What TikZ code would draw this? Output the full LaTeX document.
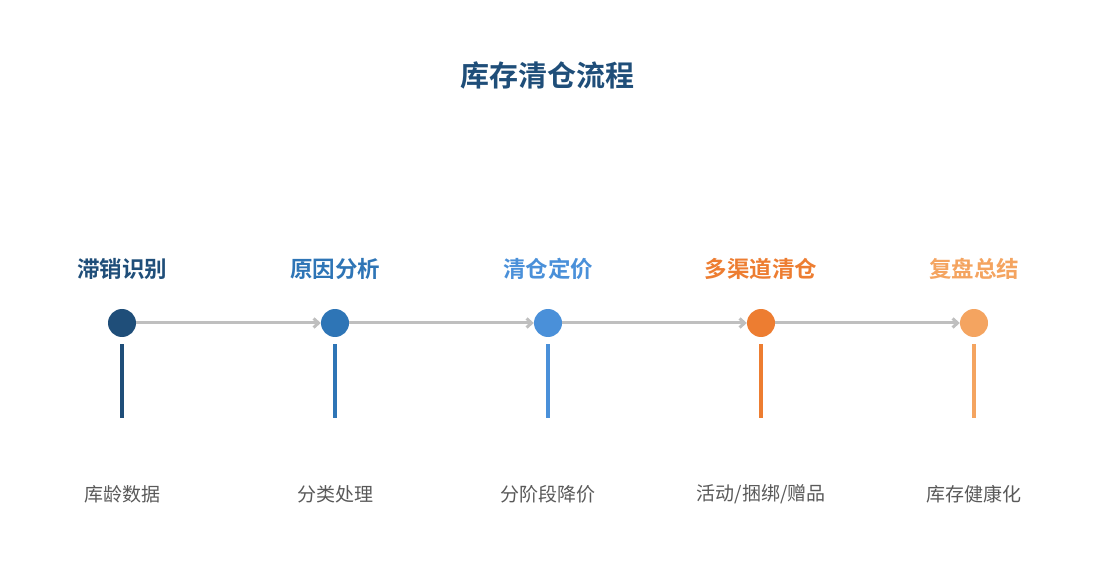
\documentclass[tikz,border=0pt]{standalone}
\usepackage{fontspec}
\setmainfont{Noto Sans CJK SC}
\newfontfamily\cjkb{Noto Sans CJK SC Bold}
\usetikzlibrary{arrows.meta}
\definecolor{cA}{HTML}{1F4E79}
\definecolor{cB}{HTML}{2E75B6}
\definecolor{cC}{HTML}{4A90D9}
\definecolor{cD}{HTML}{ED7D31}
\definecolor{cE}{HTML}{F4A460}
\definecolor{lineg}{HTML}{BFBFBF}
\definecolor{txtg}{HTML}{595959}
\tikzset{
  dot/.style={circle,fill=#1,minimum size=28pt,inner sep=0pt},
  steplabel/.style={text=#1,font=\cjkb\fontsize{22.5pt}{26pt}\selectfont,inner sep=0pt},
  desc/.style={text=txtg,font=\fontsize{19pt}{23pt}\selectfont,inner sep=0pt},
  conn/.style={draw=lineg,line width=3pt,-{Straight Barb[length=5pt,width=9pt]}},
  stem/.style={draw=#1,line width=4pt},
}
\begin{document}
\begin{tikzpicture}[x=1pt,y=-1pt]
\useasboundingbox (0,0) rectangle (1095,585);
\node[text=cA,font=\cjkb\fontsize{29pt}{33pt}\selectfont,inner sep=0pt] (title) at (547,75) {库存清仓流程};
\foreach \i/\x/\c/\a/\b in {1/122/cA/滞销识别/库龄数据,2/335/cB/原因分析/分类处理,3/548/cC/清仓定价/分阶段降价,4/761/cD/多渠道清仓/{活动/捆绑/赠品},5/974/cE/复盘总结/库存健康化}{
  \node[steplabel=\c] (l\i) at (\x,269) {\a};
  \node[dot=\c] (d\i) at (\x,323) {};
  \coordinate (s\i) at (\x,344);
  \coordinate (e\i) at (\x,418);
  \draw[stem=\c] (s\i) -- (e\i);
  \node[desc] (t\i) at (\x,494) {\b};
}
\foreach \i/\j in {1/2,2/3,3/4,4/5}{
  \draw[conn] (d\i.east) -- (d\j.west);
}
\end{tikzpicture}
\end{document}
